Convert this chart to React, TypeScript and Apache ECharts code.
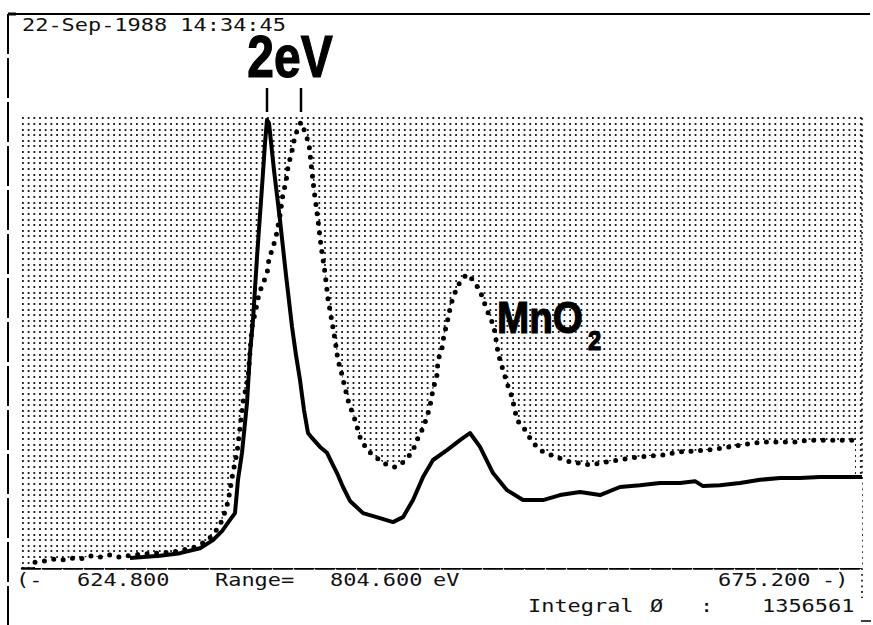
import React, { useEffect, useRef } from "react";
import * as echarts from "echarts";

// Energy-loss axis range (eV)
const axisStart = 624.8;
const axisEnd = 675.2;

// MnO spectrum (solid trace)
const energyMnO = [
  631.28, 633.08, 634.28, 635.48, 636.26, 636.8, 637.28, 637.58, 637.76, 638.0,
  638.3, 638.48, 638.66, 638.9, 639.2, 639.38, 639.5, 639.62, 639.92, 640.28,
  640.64, 641.0, 641.24, 641.48, 641.72, 641.96, 642.2, 642.68, 643.1, 643.4,
  643.7, 644.06, 644.48, 645.26, 646.28, 647.06, 647.66, 648.26, 648.86, 649.46,
  650.3, 651.08, 651.68, 652.28, 653.06, 653.9, 654.86, 656.06, 657.08, 658.28,
  659.48, 660.68, 661.88, 663.08, 664.28, 665.18, 665.66, 666.68, 667.88, 669.08,
  670.28, 671.48, 672.68, 673.88, 675.2,
];
const countsMnO = [
  2.2, 2.7, 3.3, 4.4, 6.2, 8.2, 10.7, 12.2, 19.6, 25.6,
  36.7, 47.8, 55.1, 69.1, 84.7, 94.4, 99.6, 98.9, 88.4, 77.3,
  65.1, 53.6, 47.3, 41.8, 35.1, 30.0, 28.9, 26.9, 25.6, 23.3,
  21.1, 18.0, 14.9, 12.2, 11.1, 10.2, 11.3, 15.1, 20.2, 24.0,
  26.2, 28.4, 30.0, 26.9, 21.1, 17.3, 15.1, 15.1, 16.2, 16.9,
  16.2, 18.0, 18.4, 18.9, 18.9, 19.3, 18.2, 18.4, 18.9, 19.6,
  20.0, 20.0, 20.2, 20.2, 20.2,
];

// MnO2 spectrum (dotted trace)
const energyMnO2 = [
  625.58, 626.18, 626.78, 627.2, 627.68, 628.28, 628.88, 629.48, 630.08, 630.68,
  631.16, 631.88, 633.08, 634.28, 635.18, 635.78, 636.26, 636.68, 636.92, 637.16,
  637.28, 637.46, 637.7, 637.88, 638.06, 638.36, 638.6, 638.84, 639.02, 639.26,
  639.5, 639.62, 639.86, 640.04, 640.28, 640.46, 640.64, 640.76, 641.0, 641.18,
  641.42, 641.54, 641.78, 642.02, 642.14, 642.32, 642.56, 642.74, 642.98, 643.16,
  643.4, 643.58, 643.76, 644.0, 644.18, 644.36, 644.6, 644.78, 645.08, 645.5,
  646.1, 646.7, 647.18, 647.6, 648.2, 648.56, 648.86, 649.1, 649.28, 649.46,
  649.7, 649.76, 650.0, 650.12, 650.3, 650.48, 650.66, 651.08, 651.5, 651.86,
  652.28, 652.7, 653.0, 653.18, 653.3, 653.48, 653.66, 653.9, 654.2, 654.5,
  654.98, 655.46, 656.06, 657.08, 657.68, 658.88, 659.9, 661.28, 661.88, 663.26,
  664.28, 665.9, 667.28, 667.88, 669.26, 669.86, 671.3, 671.9, 673.28, 674.78,
];
const countsMnO2 = [
  1.3, 1.6, 2.0, 1.8, 2.2, 2.0, 2.7, 2.4, 2.9, 2.4,
  2.7, 3.1, 3.3, 3.8, 4.7, 5.8, 7.3, 9.6, 11.8, 14.7,
  17.3, 21.3, 25.6, 31.1, 36.9, 42.2, 53.6, 57.6, 60.9, 63.3,
  65.3, 68.7, 71.3, 73.6, 78.4, 83.1, 85.8, 89.1, 92.7, 96.0,
  98.2, 99.1, 96.9, 94.2, 90.0, 84.0, 77.3, 71.6, 65.6, 59.8,
  54.7, 50.7, 46.2, 42.9, 40.0, 37.3, 34.7, 32.9, 29.1, 26.2,
  24.4, 22.9, 22.4, 23.3, 25.6, 28.9, 31.1, 33.6, 36.0, 39.6,
  42.9, 46.2, 48.9, 51.8, 54.4, 57.6, 60.2, 63.6, 65.3, 64.0,
  61.6, 57.3, 54.7, 52.4, 49.1, 46.2, 44.0, 41.1, 38.0, 32.9,
  30.7, 27.8, 25.8, 24.4, 23.6, 22.9, 23.6, 24.4, 24.7, 25.1,
  25.8, 26.2, 26.9, 27.3, 28.0, 28.0, 28.0, 28.4, 28.4, 28.4,
];

// Printed header / footer strings
const timeStamp = "22-Sep-1988 14:34:45";
const shiftLabel = "2eV";
const footerRow1 = [
  { text: "(-", x: 16 },
  { text: "624.800", x: 77 },
  { text: "Range=", x: 215 },
  { text: "804.600", x: 330 },
  { text: "eV", x: 433 },
  { text: "675.200", x: 718 },
  { text: "-)", x: 822 },
];
const footerRow2 = [
  { text: "Integral", x: 528 },
  { text: "Ø", x: 650 },
  { text: ":", x: 700 },
  { text: "1356561", x: 762 },
];

const MONO = '17px "DejaVu Sans Mono", monospace';
const MONO_SCALE = 1.29;
const BOLD = '"Liberation Sans", Arial, sans-serif';

function pairs(xs: number[], ys: number[]) {
  return xs.map((x, i) => [x, ys[i]]);
}

function peakEnergy(xs: number[], ys: number[]) {
  let k = 0;
  ys.forEach((v, i) => {
    if (v > ys[k]) k = i;
  });
  return xs[k];
}

function monoText(text: string, x: number, y: number) {
  return {
    type: "text",
    x,
    y,
    scaleX: MONO_SCALE,
    silent: true,
    style: { text, font: MONO, fill: "#111", align: "left", verticalAlign: "middle" },
  };
}

function boldText(text: string, x: number, y: number, size: number, scaleX: number, align = "left") {
  return {
    type: "text",
    x,
    y,
    scaleX,
    silent: true,
    style: {
      text,
      font: `bold ${size}px ${BOLD}`,
      fill: "#000",
      stroke: "#000",
      lineWidth: 1.2,
      align,
      verticalAlign: "middle",
    },
  };
}

export default function App() {
  const ref = useRef<HTMLDivElement>(null);

  useEffect(() => {
    if (!ref.current) return;
    const chart = echarts.init(ref.current, undefined, { renderer: "svg" });
    const dataMnO = pairs(energyMnO, countsMnO);
    const dataMnO2 = pairs(energyMnO2, countsMnO2);

    chart.setOption({
      animation: false,
      backgroundColor: "#ffffff",
      grid: { left: 22, right: 11, top: 118, bottom: 57 },
      xAxis: {
        type: "value",
        min: axisStart,
        max: axisEnd,
        axisLine: { show: true, lineStyle: { color: "#000", width: 2.5, type: [18, 3] } },
        axisTick: { show: false },
        axisLabel: { show: false },
        splitLine: { show: false },
      },
      yAxis: {
        type: "value",
        min: 0,
        max: 100,
        interval: 1.25,
        axisLine: { show: false },
        axisTick: { show: false },
        axisLabel: { show: false },
        splitLine: {
          show: true,
          lineStyle: { color: "#222", width: 1.8, type: [1.8, 3.9] },
        },
      },
      series: [
        // white fills under each trace hide the dot screen below the curves
        {
          type: "line",
          data: dataMnO2,
          showSymbol: false,
          silent: true,
          z: 2,
          lineStyle: { width: 0, opacity: 0 },
          areaStyle: { color: "#ffffff", opacity: 1 },
        },
        {
          type: "line",
          data: dataMnO,
          showSymbol: false,
          silent: true,
          z: 2,
          lineStyle: { width: 0, opacity: 0 },
          areaStyle: { color: "#ffffff", opacity: 1 },
        },
        {
          name: "MnO2",
          type: "line",
          data: dataMnO2,
          showSymbol: false,
          silent: true,
          z: 3,
          lineStyle: { color: "#000", width: 5, type: [0, 9.5], cap: "round" },
        },
        {
          name: "MnO",
          type: "line",
          data: dataMnO,
          showSymbol: false,
          silent: true,
          z: 4,
          lineStyle: { color: "#000", width: 4, join: "round" },
        },
      ],
    });

    const px = (e: number) => chart.convertToPixel({ gridIndex: 0 }, [e, 0])[0];
    const xPeakMnO = px(peakEnergy(energyMnO, countsMnO));
    const xPeakMnO2 = px(peakEnergy(energyMnO2, countsMnO2));
    const xRight = px(axisEnd);

    chart.setOption({
      graphic: {
        elements: [
          // page frame
          { type: "line", silent: true, shape: { x1: 8, y1: 14, x2: 870, y2: 14 }, style: { stroke: "#000", lineWidth: 2 } },
          { type: "line", silent: true, shape: { x1: 8, y1: 14, x2: 8, y2: 625 }, style: { stroke: "#000", lineWidth: 2, lineDash: [40, 4] } },
          { type: "line", silent: true, shape: { x1: 8, y1: 14, x2: 16, y2: 14 }, style: { stroke: "#000", lineWidth: 3 } },
          { type: "line", silent: true, shape: { x1: xRight, y1: 118, x2: xRight, y2: 598 }, style: { stroke: "#222", lineWidth: 1.8, lineDash: [1.8, 3.9] } },
          { type: "line", silent: true, shape: { x1: 861, y1: 621, x2: 871, y2: 621 }, style: { stroke: "#000", lineWidth: 1.5 } },
          // peak markers
          { type: "line", silent: true, shape: { x1: xPeakMnO, y1: 88, x2: xPeakMnO, y2: 112 }, style: { stroke: "#000", lineWidth: 2.5 } },
          { type: "line", silent: true, shape: { x1: xPeakMnO2, y1: 88, x2: xPeakMnO2, y2: 112 }, style: { stroke: "#000", lineWidth: 2.5 } },
          boldText(shiftLabel, (xPeakMnO + xPeakMnO2) / 2 + 6, 57, 60, 0.8, "center"),
          // trace labels
          boldText("MnO", 497, 317, 45, 0.86),
          boldText("2", 588, 340, 28, 0.85),
          boldText("MnO", 501, 524, 46, 0.88),
          // printer text
          monoText(timeStamp, 22, 25),
          ...footerRow1.map((t) => monoText(t.text, t.x, 580)),
          ...footerRow2.map((t) => monoText(t.text, t.x, 606)),
        ],
      },
    });

    return () => chart.dispose();
  }, []);

  return (
    <div
      ref={ref}
      style={{ position: "absolute", left: 0, top: 0, width: 873, height: 625, background: "#fff" }}
    />
  );
}
